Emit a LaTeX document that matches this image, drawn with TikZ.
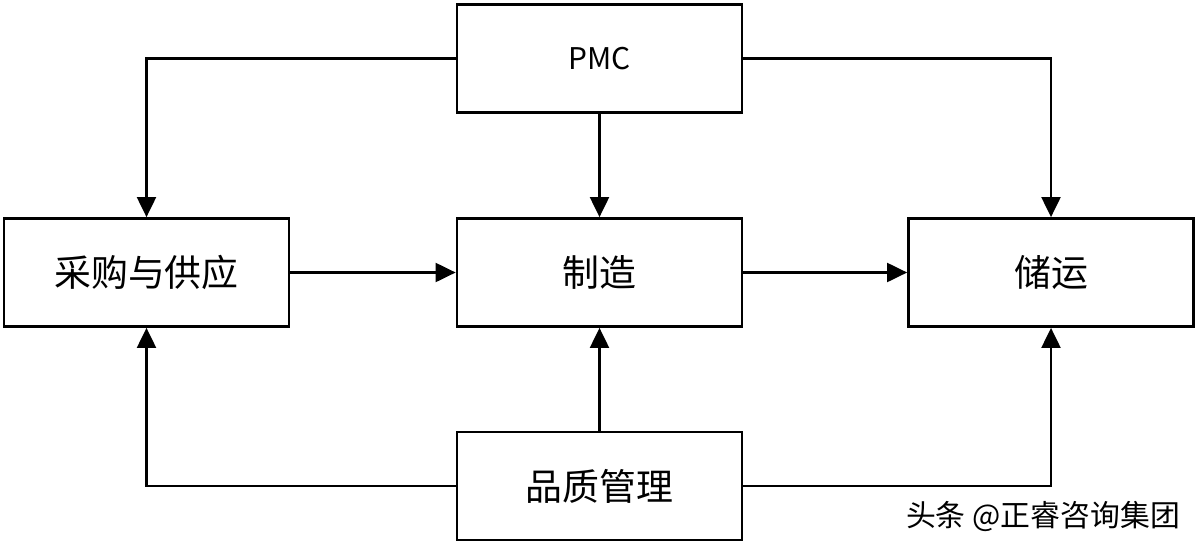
\documentclass[tikz,border=0pt]{standalone}
\usepackage{fontspec}
\newfontfamily\cjk{Noto Sans CJK SC}
\usetikzlibrary{arrows.meta}
\begin{document}
\begin{tikzpicture}[x=0.02cm, y=-0.02cm,
  blk/.style={draw, line width=1.6pt, minimum width=5.7cm, minimum height=2.16cm, font=\cjk\fontsize{21}{24}\selectfont},
  flow/.style={line width=1.2pt, -{Triangle[length=0.4cm,width=0.38cm]}}]
\useasboundingbox (0,0) rectangle (1200,548);
\node[blk, font=\cjk\fontsize{17}{20}\selectfont] (pmc) at (599.5,58.5){PMC};
\node[blk] (buy) at (146.5,272.5){采购与供应};
\node[blk] (make) at (599.5,272.5){制造};
\node[blk] (store) at (1051,272.5){储运};
\node[blk] (qual) at (599.5,486){品质管理};
\node[font=\cjk\fontsize{17}{20}\selectfont] (mark) at (1043,516){头条 @正睿咨询集团};
\draw[flow] (pmc.west) -| (buy.north);
\draw[flow] (pmc.east) -| (store.north);
\draw[flow] (pmc) -- (make);
\draw[flow] (buy) -- (make);
\draw[flow] (make) -- (store);
\draw[flow] (qual.west) -| (buy.south);
\draw[flow] (qual.east) -| (store.south);
\draw[flow] (qual) -- (make);

\end{tikzpicture}
\end{document}
